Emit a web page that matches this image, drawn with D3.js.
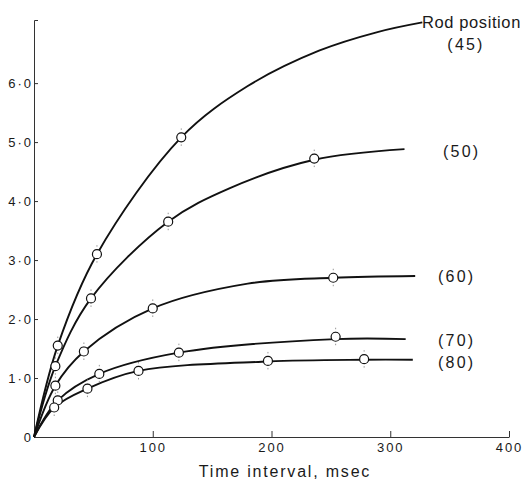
<!DOCTYPE html>
<html>
<head>
<meta charset="utf-8">
<script src="https://cdn.jsdelivr.net/npm/d3@7"></script>
<style>
  body { margin: 0; background: #fff; }
  text { font-family: "Liberation Sans", Arial, sans-serif; fill: #1a1a1a; }
</style>
</head>
<body>
<div class="chart"></div>
<script>
// DATA ------
const rods = ["45", "50", "60", "70", "80"];

// measured points [msec, value]
const pts45 = [[20, 1.55], [53, 3.1], [124, 5.08]];
const pts50 = [[18, 1.2], [48, 2.35], [113, 3.65], [236, 4.72]];
const pts60 = [[18, 0.87], [42, 1.45], [100, 2.18], [252, 2.7]];
const pts70 = [[20, 0.62], [55, 1.07], [122, 1.43], [254, 1.7]];
const pts80 = [[17, 0.5], [45, 0.82], [88, 1.12], [197, 1.29], [278, 1.32]];

// hand-drawn fitted curves
const fit45 = [[0, 0], [20, 1.55], [53, 3.1], [124, 5.08], [180, 5.95], [240, 6.55], [290, 6.87], [327, 7.03]];
const fit50 = [[0, 0], [18, 1.2], [48, 2.35], [113, 3.65], [165, 4.22], [236, 4.7], [312, 4.88]];
const fit60 = [[0, 0], [18, 0.87], [42, 1.45], [100, 2.18], [180, 2.6], [252, 2.7], [321, 2.73]];
const fit70 = [[0, 0], [20, 0.62], [55, 1.07], [122, 1.43], [254, 1.66], [313, 1.66]];
const fit80 = [[0, 0], [17, 0.5], [45, 0.82], [88, 1.12], [197, 1.28], [278, 1.31], [319, 1.31]];

const xTicks = [100, 200, 300, 400];
const yTicks = [0, 1, 2, 3, 4, 5, 6];

const series = [
  {rod: rods[0], pts: pts45, fit: fit45},
  {rod: rods[1], pts: pts50, fit: fit50},
  {rod: rods[2], pts: pts60, fit: fit60},
  {rod: rods[3], pts: pts70, fit: fit70},
  {rod: rods[4], pts: pts80, fit: fit80}
];

// CHART INIT ------
const W = 525, H = 485;
const svg = d3.select(".chart")
  .append("svg")
  .attr("width", W)
  .attr("height", H);

const x = d3.scaleLinear().domain([0, 400]).range([34, 509]);
const y = d3.scaleLinear().domain([0, 7.07]).range([437, 20]);

// axes, ticks pointing inward
const xAxis = d3.axisBottom(x)
  .tickValues(xTicks)
  .tickSizeInner(-6)
  .tickSizeOuter(0)
  .tickPadding(6);

const yAxis = d3.axisLeft(y)
  .tickValues(yTicks)
  .tickSizeInner(-4)
  .tickSizeOuter(-4)
  .tickPadding(3)
  .tickFormat(d => d === 0 ? "0" : d.toFixed(1).replace(".", "·"));

const gx = svg.append("g")
  .attr("transform", `translate(0,${y(0)})`)
  .call(xAxis);

const gy = svg.append("g")
  .attr("transform", `translate(${x(0)},0)`)
  .call(yAxis);

[gx, gy].forEach(g => {
  g.attr("font-family", null).attr("font-size", null);
  g.selectAll("path, line").attr("stroke", "#333").attr("stroke-width", 1);
  g.selectAll("text")
    .style("font-size", "13px")
    .style("letter-spacing", "2px")
    .attr("fill", "#1a1a1a");
});
gy.selectAll("text").attr("x", -1);

// axis title
svg.append("text")
  .attr("x", 285)
  .attr("y", 477)
  .attr("text-anchor", "middle")
  .style("font-size", "16px")
  .style("letter-spacing", "1.8px")
  .text("Time interval, msec");

// curves
const line = d3.line()
  .x(d => x(d[0]))
  .y(d => y(d[1]))
  .curve(d3.curveCatmullRom.alpha(0.5));

svg.selectAll(".fit")
  .data(series)
  .enter()
  .append("path")
  .attr("class", "fit")
  .attr("d", d => line(d.fit))
  .attr("fill", "none")
  .attr("stroke", "#111")
  .attr("stroke-width", 1.9);

// points with small error bars
const pts = series.flatMap(s => s.pts);

svg.selectAll(".err")
  .data(pts)
  .enter()
  .append("line")
  .attr("class", "err")
  .attr("x1", d => x(d[0]))
  .attr("x2", d => x(d[0]))
  .attr("y1", d => y(d[1]) - 9)
  .attr("y2", d => y(d[1]) + 9)
  .attr("stroke", "#999")
  .attr("stroke-width", 1)
  .attr("stroke-dasharray", "1.5,2.5");

svg.selectAll(".pt")
  .data(pts)
  .enter()
  .append("circle")
  .attr("class", "pt")
  .attr("cx", d => x(d[0]))
  .attr("cy", d => y(d[1]))
  .attr("r", 4.5)
  .attr("fill", "#fff")
  .attr("stroke", "#111")
  .attr("stroke-width", 1.2);

// curve labels
const labelStyle = sel => sel
  .style("font-size", "16px")
  .style("letter-spacing", "2.2px");

svg.append("text")
  .attr("x", 422)
  .attr("y", 28)
  .style("font-size", "16.5px")
  .style("letter-spacing", "0.6px")
  .text("Rod position");

svg.append("text")
  .attr("x", 466)
  .attr("y", 50)
  .attr("text-anchor", "middle")
  .call(labelStyle)
  .text(`(${rods[0]})`);

// label left edge (px) and baseline shift below the curve end
const labelX = [null, 443, 438, 438, 438];
const labelDy = [null, 8, 6, 7, 8];
series.slice(1).forEach((s, i) => {
  const end = s.fit[s.fit.length - 1];
  svg.append("text")
    .attr("x", labelX[i + 1])
    .attr("y", y(end[1]) + labelDy[i + 1])
    .call(labelStyle)
    .text(`(${s.rod})`);
});
</script>
</body>
</html>
